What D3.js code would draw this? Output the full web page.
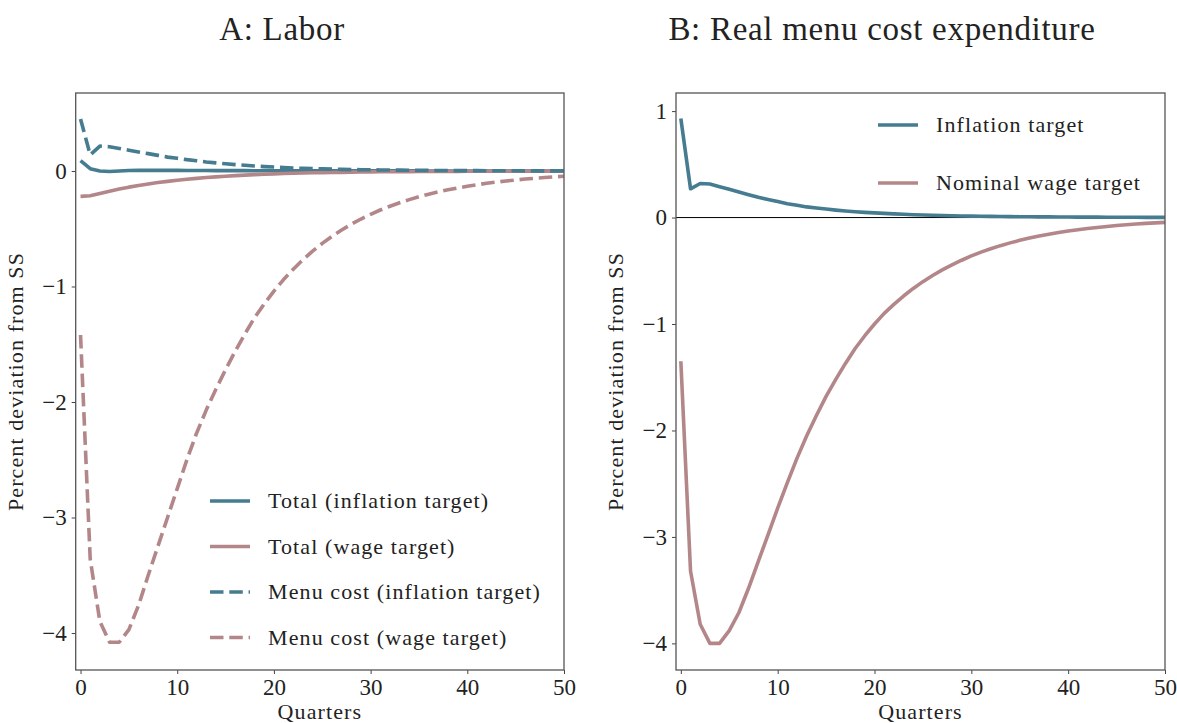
<!DOCTYPE html>
<html>
<head>
<meta charset="utf-8">
<script src="https://cdn.jsdelivr.net/npm/d3@7"></script>
<style>
  body { margin: 0; background: #fff; }
  svg text { font-family: "Liberation Serif", "DejaVu Serif", serif; fill: #222; }
</style>
</head>
<body>
<div id="chart"></div>
<script>
// quarters 0..50
var quarters = d3.range(0, 51);

// Panel A: labor
var totalInflation = [0.09, 0.02, 0.0, -0.005, 0.0, 0.004, 0.005, 0.005, 0.005, 0.005,
  0.005, 0.004, 0.004, 0.004, 0.003, 0.003, 0.003, 0.003, 0.002, 0.002,
  0.002, 0.002, 0.002, 0.002, 0.001, 0.001, 0.001, 0.001, 0.001, 0.001,
  0.001, 0.001, 0.001, 0.001, 0.001, 0.001, 0.0, 0.0, 0.0, 0.0,
  0.0, 0.0, 0.0, 0.0, 0.0, 0.0, 0.0, 0.0, 0.0, 0.0, 0.0];
var totalWage = [-0.22, -0.215, -0.195, -0.175, -0.157, -0.14, -0.125, -0.112, -0.1, -0.09,
  -0.08, -0.072, -0.064, -0.057, -0.051, -0.045, -0.04, -0.036, -0.032, -0.028,
  -0.025, -0.022, -0.02, -0.018, -0.016, -0.014, -0.013, -0.012, -0.01, -0.009,
  -0.008, -0.007, -0.007, -0.006, -0.006, -0.005, -0.005, -0.004, -0.004, -0.004,
  -0.003, -0.003, -0.003, -0.002, -0.002, -0.002, -0.002, -0.001, -0.001, -0.001, -0.001];
var menuInflation = [0.45, 0.14, 0.215, 0.21, 0.195, 0.18, 0.165, 0.15, 0.135, 0.12,
  0.11, 0.098, 0.088, 0.078, 0.07, 0.062, 0.055, 0.049, 0.043, 0.038,
  0.034, 0.03, 0.026, 0.023, 0.02, 0.018, 0.016, 0.014, 0.012, 0.011,
  0.01, 0.009, 0.008, 0.007, 0.006, 0.005, 0.005, 0.004, 0.004, 0.003,
  0.003, 0.003, 0.002, 0.002, 0.002, 0.002, 0.001, 0.001, 0.001, 0.001, 0.001];
var menuWage = [-1.42, -3.36, -3.9, -4.08, -4.08, -3.97, -3.76, -3.5, -3.25, -3.0,
  -2.75, -2.5, -2.27, -2.07, -1.89, -1.72, -1.56, -1.41, -1.27, -1.15,
  -1.04, -0.94, -0.85, -0.768, -0.694, -0.627, -0.566, -0.511, -0.461, -0.416,
  -0.375, -0.338, -0.305, -0.275, -0.248, -0.223, -0.201, -0.181, -0.163, -0.147,
  -0.132, -0.119, -0.107, -0.096, -0.087, -0.078, -0.07, -0.063, -0.057, -0.051, -0.046];

// Panel B: real menu cost expenditure
var expInflation = [0.93, 0.27, 0.32, 0.315, 0.29, 0.265, 0.24, 0.215, 0.19, 0.17,
  0.15, 0.13, 0.115, 0.1, 0.09, 0.08, 0.07, 0.062, 0.055, 0.049,
  0.044, 0.039, 0.035, 0.031, 0.027, 0.024, 0.021, 0.019, 0.017, 0.015,
  0.013, 0.012, 0.011, 0.01, 0.009, 0.008, 0.007, 0.006, 0.006, 0.005,
  0.005, 0.004, 0.004, 0.004, 0.003, 0.003, 0.003, 0.003, 0.002, 0.002, 0.002];
var expWage = [-1.35, -3.32, -3.82, -4.0, -4.0, -3.88, -3.71, -3.48, -3.23, -2.98,
  -2.73, -2.49, -2.26, -2.05, -1.86, -1.68, -1.52, -1.37, -1.23, -1.11,
  -1.0, -0.9, -0.815, -0.737, -0.666, -0.602, -0.544, -0.492, -0.445, -0.401,
  -0.36, -0.325, -0.293, -0.264, -0.238, -0.214, -0.193, -0.174, -0.157, -0.141,
  -0.127, -0.114, -0.103, -0.093, -0.084, -0.075, -0.068, -0.061, -0.055, -0.05, -0.045];

var xTicks = [0, 10, 20, 30, 40, 50];
var yTicksA = [0, -1, -2, -3, -4];
var yTicksB = [1, 0, -1, -2, -3, -4];

var blue = "#457c90";
var pink = "#b38789";

var svg = d3.select("#chart").append("svg")
  .attr("width", 1177)
  .attr("height", 723);

var fmt = function(d) { return d < 0 ? "\u2212" + Math.abs(d) : String(d); };

function drawPanel(opts) {
  var left = opts.left, top = 93, w = opts.w, h = 577;

  var x = d3.scaleLinear().domain([-0.5, 50]).range([left, left + w]);
  var y = d3.scaleLinear().domain(opts.ydom).range([top + h, top]);

  var g = svg.append("g");

  if (opts.zeroLine) {
    g.append("line")
      .attr("x1", left).attr("x2", left + w)
      .attr("y1", y(0)).attr("y2", y(0))
      .attr("stroke", "#000").attr("stroke-width", 1);
  }

  var line = d3.line()
    .x(function(d, i) { return x(quarters[i]); })
    .y(function(d) { return y(d); });

  opts.series.forEach(function(s) {
    g.append("path")
      .datum(s.values)
      .attr("d", line)
      .attr("fill", "none")
      .attr("stroke", s.color)
      .attr("stroke-width", 3.6)
      .attr("stroke-linejoin", "round")
      .attr("stroke-dasharray", s.dashed ? "13.5,5.8" : null);
  });

  // axes
  var xAxis = g.append("g")
    .attr("transform", "translate(0," + (top + h) + ")")
    .call(d3.axisBottom(x).tickValues(xTicks).tickSize(4).tickPadding(5).tickFormat(fmt));
  var yAxis = g.append("g")
    .attr("transform", "translate(" + left + ",0)")
    .call(d3.axisLeft(y).tickValues(opts.yticks).tickSize(4).tickPadding(5).tickFormat(fmt));

  [xAxis, yAxis].forEach(function(a) {
    a.select(".domain").remove();
    a.selectAll(".tick line").attr("stroke", "#444").attr("stroke-width", 1);
    a.selectAll(".tick text").attr("font-size", 23).attr("fill", "#222");
  });

  // frame
  g.append("rect")
    .attr("x", left).attr("y", top)
    .attr("width", w).attr("height", h)
    .attr("fill", "none")
    .attr("stroke", "#555")
    .attr("stroke-width", 1.3);

  g.append("text")
    .attr("x", left + w / 2).attr("y", 719)
    .attr("text-anchor", "middle")
    .attr("font-size", 22)
    .attr("letter-spacing", 1.1)
    .text("Quarters");

  g.append("text")
    .attr("transform", "translate(" + (left - 53) + "," + (top + h / 2) + ") rotate(-90)")
    .attr("text-anchor", "middle")
    .attr("font-size", 22)
    .attr("letter-spacing", 1.1)
    .text("Percent deviation from SS");

  g.append("text")
    .attr("x", opts.titleX).attr("y", 40)
    .attr("text-anchor", "middle")
    .attr("font-size", 33)
    .attr("letter-spacing", 0.7)
    .text(opts.title);

  // legend
  var lg = g.append("g");
  opts.series.forEach(function(s, i) {
    var ly = opts.legendY + i * opts.legendStep;
    lg.append("line")
      .attr("x1", opts.legendX).attr("x2", opts.legendX + 40)
      .attr("y1", ly).attr("y2", ly)
      .attr("stroke", s.color)
      .attr("stroke-width", 3.6)
      .attr("stroke-dasharray", s.dashed ? "13.5,5.8" : null);
    lg.append("text")
      .attr("x", opts.legendX + 58).attr("y", ly + 7)
      .attr("font-size", 22)
      .attr("letter-spacing", 1.1)
      .text(s.label);
  });
}

drawPanel({
  left: 75.7, w: 488.3,
  ydom: [-4.32, 0.675],
  yticks: yTicksA,
  title: "A: Labor", titleX: 282,
  legendX: 210, legendY: 501, legendStep: 45.5,
  series: [
    { label: "Total (inflation target)", values: totalInflation, color: blue, dashed: false },
    { label: "Total (wage target)", values: totalWage, color: pink, dashed: false },
    { label: "Menu cost (inflation target)", values: menuInflation, color: blue, dashed: true },
    { label: "Menu cost (wage target)", values: menuWage, color: pink, dashed: true }
  ]
});

drawPanel({
  left: 676, w: 489,
  ydom: [-4.25, 1.17],
  yticks: yTicksB,
  zeroLine: true,
  title: "B: Real menu cost expenditure", titleX: 882,
  legendX: 878, legendY: 125, legendStep: 58,
  series: [
    { label: "Inflation target", values: expInflation, color: blue, dashed: false },
    { label: "Nominal wage target", values: expWage, color: pink, dashed: false }
  ]
});
</script>
</body>
</html>
